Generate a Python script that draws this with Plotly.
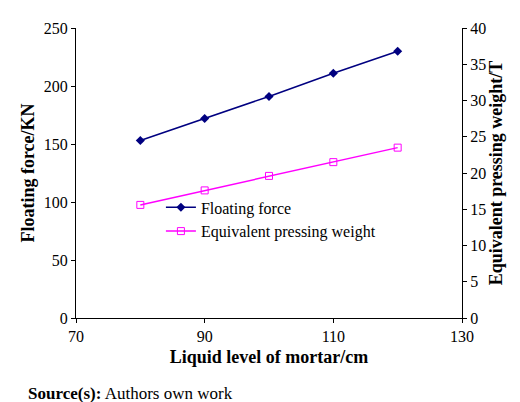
import plotly.graph_objects as go

level = [80, 90, 100, 110, 120]
floating_force = [153, 172, 191, 211, 230]
pressing_weight = [15.6, 17.6, 19.6, 21.5, 23.5]

font = "Liberation Serif, Times New Roman, serif"

fig = go.Figure()
fig.add_trace(go.Scatter(x=level, y=floating_force, name="Floating force",
                         mode="lines+markers",
                         line=dict(color="#000080", width=1.5),
                         marker=dict(symbol="diamond", size=7, color="#000080")))
fig.add_trace(go.Scatter(x=level, y=pressing_weight, name="Equivalent pressing weight",
                         mode="lines+markers", yaxis="y2",
                         line=dict(color="#FF00FF", width=1.5),
                         marker=dict(symbol="square-open", size=7, color="#FF00FF")))

axis_common = dict(showgrid=False, zeroline=False, showline=True, linecolor="black",
                   linewidth=1, ticks="outside", ticklen=4, tickcolor="black",
                   tickfont=dict(size=16, color="black"))

fig.update_layout(
    width=520, height=402,
    paper_bgcolor="white", plot_bgcolor="white",
    font=dict(family=font, color="black"),
    margin=dict(l=68, r=66, t=15, b=92),
    showlegend=True,
    legend=dict(x=0.22, y=0.34, bgcolor="rgba(0,0,0,0)",
                font=dict(size=16, color="black")),
    xaxis=dict(range=[70, 130], tick0=70, dtick=20,
               title=dict(text="<b>Liquid level of mortar/cm</b>", font=dict(size=18), standoff=6),
               **axis_common),
    yaxis=dict(range=[0, 250], dtick=50,
               title=dict(text="<b>Floating force/KN</b>", font=dict(size=18), standoff=4),
               **axis_common),
    yaxis2=dict(range=[0, 40], dtick=5, overlaying="y", side="right",
                title=dict(text="<b>Equivalent pressing weight/T</b>", font=dict(size=18), standoff=4),
                **axis_common),
)

fig.add_annotation(text="<b>Source(s):</b> Authors own work", xref="paper", yref="paper",
                   x=-0.13, y=-0.22, xanchor="left", yanchor="top", showarrow=False,
                   font=dict(size=17, color="black"))

fig.write_html("out.html")
